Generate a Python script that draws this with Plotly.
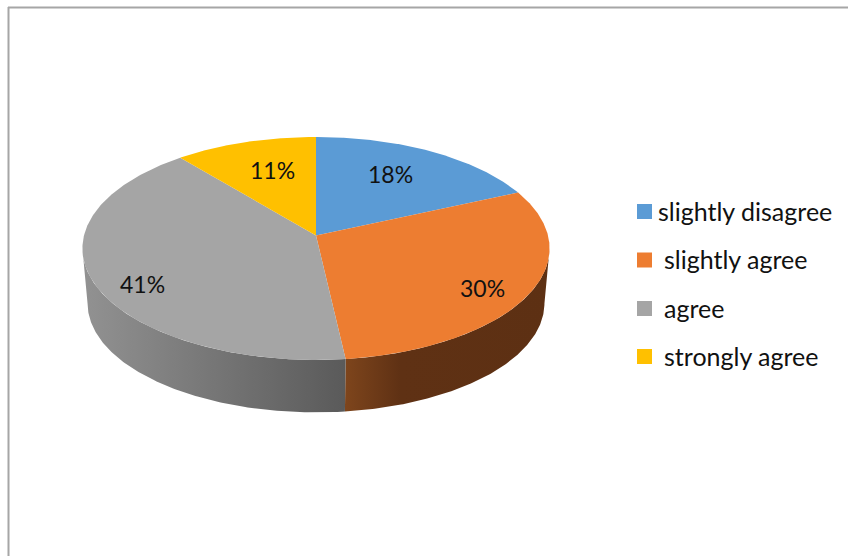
import numpy as np
import plotly.graph_objects as go

categories = ["slightly disagree", "slightly agree", "agree", "strongly agree"]
values = [18.3, 29.9, 40.8, 11.0]
colors = ["#5B9BD5", "#ED7D31", "#A5A5A5", "#FFC000"]

CX, CY = 316.0, 235.5
A, B, K = 110.0, 232.0, 0.116
S, DROP = 0.978, 55.2


def project(theta, lower=False):
    X, Y = np.sin(theta), -np.cos(theta)
    d = 1 - K * Y
    x, y = X * B / d, Y * A / d
    if lower:
        return CX + x * S, CY + DROP + y * S
    return CX + x, CY + y


fracs = np.cumsum([0] + values) / sum(values)
angles = fracs * 2 * np.pi

fig = go.Figure()

# silhouette angles: widest points of the top rim
scan = np.linspace(0, 2 * np.pi, 1441)
scan_x = project(scan)[0]
right_t, left_t = scan[np.argmax(scan_x)], scan[np.argmin(scan_x)]

# side walls (orange and grey are the only ones facing the viewer)
side_walls = [
    (max(angles[1], right_t), angles[2],
     [[0, "#7E451C"], [0.27, "#5F3114"], [1, "#5D3013"]]),
    (angles[2], min(angles[3], left_t),
     [[0, "#929292"], [1, "#5A5A5A"]]),
]
for t0, t1, scale in side_walls:
    t = np.linspace(t0, t1, 160)
    x0, y0 = project(t)
    x1, y1 = project(t[::-1], lower=True)
    fig.add_trace(go.Scatter(
        x=np.r_[x0, x1, x0[0]], y=np.r_[y0, y1, y0[0]], mode="lines",
        line=dict(width=0), fill="toself",
        fillgradient=dict(type="horizontal", colorscale=scale),
        showlegend=False, hoverinfo="skip",
    ))

# top faces
for i, name in enumerate(categories):
    t = np.linspace(angles[i], angles[i + 1], 200)
    x, y = project(t)
    fig.add_trace(go.Scatter(
        x=np.r_[CX, x, CX], y=np.r_[CY, y, CY], mode="lines",
        line=dict(width=0), fill="toself", fillcolor=colors[i],
        name=name, showlegend=False, hoverinfo="skip",
    ))

# percentage labels
label_pos = [(390, 174), (482, 288), (142, 284), (272, 170)]
FONT = "Lato, Carlito, sans-serif"
for v, (lx, ly) in zip(values, label_pos):
    fig.add_annotation(x=lx, y=ly, text=f"{v:.0f}%", showarrow=False,
                       font=dict(family=FONT, size=23, color="#111111"))

# legend
legend_y = [211.5, 260, 308.5, 356.5]
legend_x = [656, 662, 662, 662]
fig.add_trace(go.Scatter(
    x=[644.5] * 4, y=legend_y, mode="markers",
    marker=dict(symbol="square", size=15, color=colors, line=dict(width=0)),
    showlegend=False, hoverinfo="skip",
))
for lab, lx, ly in zip(categories, legend_x, legend_y):
    fig.add_annotation(x=lx, y=ly - 1, text=lab, showarrow=False, xanchor="left",
                       font=dict(family=FONT, size=25, color="#111111"))

# picture frame
frame = dict(color="#A6A6A6", width=2)
fig.add_shape(type="line", x0=8.5, x1=8.5, y0=7, y1=556, line=frame)
fig.add_shape(type="line", x0=8, x1=848, y0=7.5, y1=7.5, line=frame)

fig.update_layout(
    width=848, height=556, margin=dict(l=0, r=0, t=0, b=0),
    paper_bgcolor="white", plot_bgcolor="white", showlegend=False,
    xaxis=dict(visible=False, range=[0, 848], fixedrange=True),
    yaxis=dict(visible=False, range=[556, 0], fixedrange=True),
)
fig.write_html("out.html", config={"displayModeBar": False},
               post_script="document.body.style.margin='0';document.body.style.overflow='hidden';")
